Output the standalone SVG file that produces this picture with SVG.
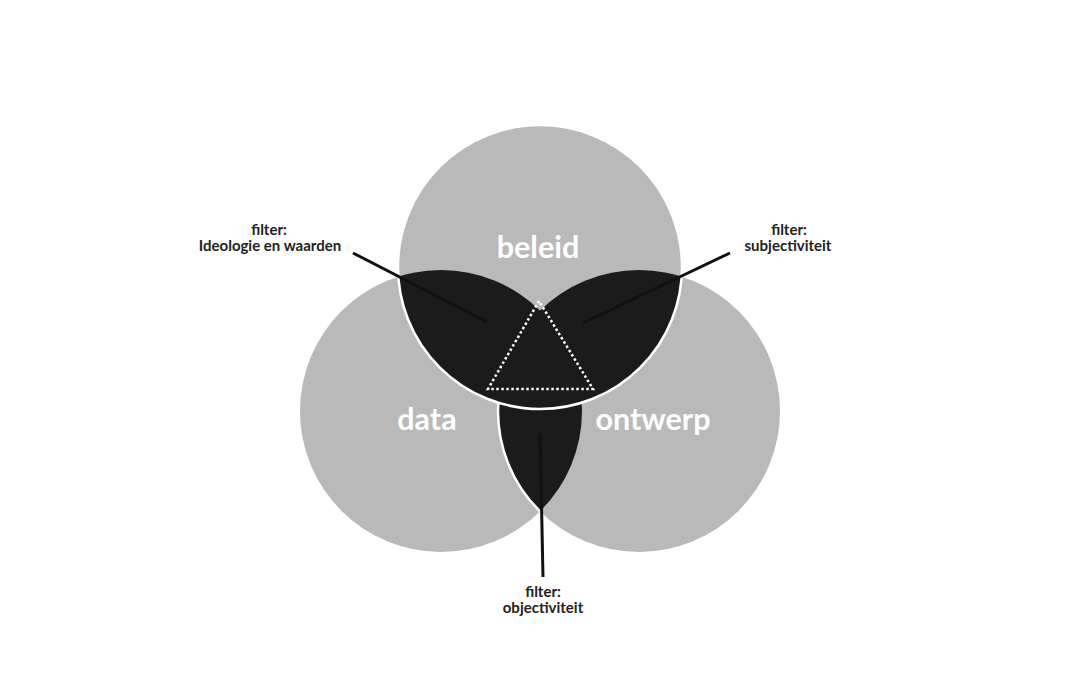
<svg xmlns="http://www.w3.org/2000/svg" width="1080" height="675" viewBox="0 0 1080 675">
<style>
.gray{fill:#b9b9b9}
.dark{fill:#1b1b1b}
.big{font-family:Lato,"Open Sans",sans-serif;font-weight:bold;font-size:30.5px;fill:#ffffff;text-anchor:middle}
.small{font-family:Lato,"Open Sans",sans-serif;font-weight:bold;font-size:15px;fill:#222222;text-anchor:middle}
.lead{stroke:#111111;stroke-width:3;fill:none;stroke-linecap:butt}
</style>
<defs>
<clipPath id="cTop"><circle cx="540" cy="267" r="142"/></clipPath>
<clipPath id="cLeft"><circle cx="441" cy="411" r="141"/></clipPath>
<clipPath id="cRight"><circle cx="639" cy="411" r="141"/></clipPath>
</defs>
<rect width="1080" height="675" fill="#ffffff"/>
<g id="data"><circle class="gray" cx="441" cy="411" r="141"/></g>
<g id="ontwerp"><circle class="gray" cx="639" cy="411" r="141"/></g>
<g id="beleid"><circle class="gray" cx="540" cy="267" r="142"/></g>
<g id="overlaps">
<circle class="dark" cx="441" cy="411" r="141" clip-path="url(#cRight)"/>
<circle cx="639" cy="411" r="141" fill="none" stroke="#ffffff" stroke-width="2.5" clip-path="url(#cLeft)"/>
<g clip-path="url(#cTop)">
<circle class="dark" cx="441" cy="411" r="141"/>
<circle class="dark" cx="639" cy="411" r="141"/>
</g>
<circle cx="540" cy="267" r="142" fill="none" stroke="#ffffff" stroke-width="2.5"/>
<polygon points="539,301 488,389 593,389" fill="none" stroke="#ffffff" stroke-width="2.5" stroke-dasharray="2.5 2.5"/>
</g>
<g id="labels">
<text class="big" x="538" y="258">beleid</text>
<text class="big" x="427" y="430">data</text>
<text class="big" x="653" y="430">ontwerp</text>
</g>
<g id="connectors">
<line class="lead" x1="353" y1="253" x2="487" y2="322"/>
<line class="lead" x1="730" y1="253" x2="583" y2="323"/>
<line class="lead" x1="540" y1="433" x2="543" y2="577"/>
</g>
<g id="filter-ideologie">
<text class="small" x="269" y="235">filter:</text>
<text class="small" x="270" y="251">Ideologie en waarden</text>
</g>
<g id="filter-subjectiviteit">
<text class="small" x="789" y="235">filter:</text>
<text class="small" x="788" y="251">subjectiviteit</text>
</g>
<g id="filter-objectiviteit">
<text class="small" x="543" y="597">filter:</text>
<text class="small" x="543" y="613">objectiviteit</text>
</g>
</svg>
